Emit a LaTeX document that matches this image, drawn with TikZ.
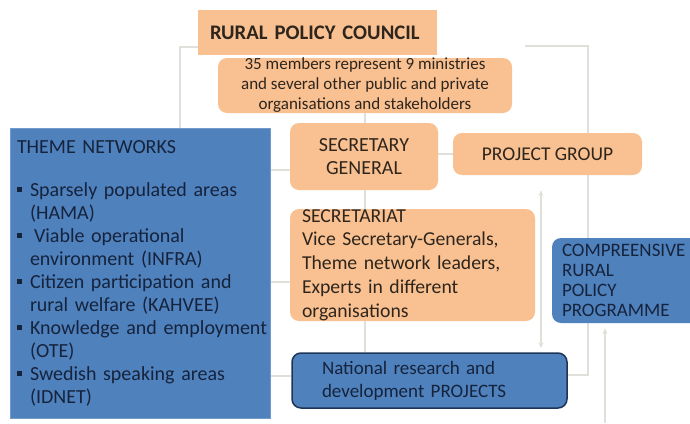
\documentclass[tikz,border=0pt]{standalone}
\usepackage{fontspec}
\setmainfont{Carlito}
\usetikzlibrary{arrows.meta,backgrounds}
\definecolor{orng}{HTML}{F9C191}
\definecolor{blu}{HTML}{4F81BD}
\definecolor{navy}{HTML}{16233C}
\definecolor{brn}{HTML}{2E251D}
\definecolor{connc}{HTML}{E0E0DA}
\definecolor{edge}{HTML}{1D3557}
\newcommand{\bul}{\makebox[13pt][l]{\raisebox{4pt}{\rule{5pt}{5pt}}}}
\newcommand{\ind}{\hspace*{13pt}}
\begin{document}
\begin{tikzpicture}[x=1pt,y=-1pt,
  obox/.style={fill=orng, draw=none, rounded corners=9pt, text=brn, inner ysep=0pt},
  rbox/.style={fill=orng, draw=none, text=brn, inner ysep=0pt},
  bbox/.style={fill=blu, draw=none, rounded corners=9pt, text=navy, inner ysep=0pt},
  conn/.style={draw=connc, line width=1.5pt},
  tip/.style={-{Stealth[length=6pt,width=5pt]}},
  dtip/.style={{Stealth[length=6pt,width=5pt]}-{Stealth[length=6pt,width=5pt]}}]
\useasboundingbox (0,0) rectangle (690,423);
\clip (0,0) rectangle (690,423);

% nodes
\node[rbox, minimum width=239pt, minimum height=45pt, inner xsep=12pt, text width=215pt, align=left,
  font=\fontsize{20.7}{23}\selectfont\bfseries] (rpc) at (317.5,32.5) {RURAL POLICY COUNCIL};
\node[obox, minimum width=294pt, minimum height=55pt, align=center,
  font=\fontsize{17}{20}\selectfont] (members) at (365,85.5)
  {35 members represent 9 ministries\\and several other public and private\\organisations and stakeholders};
\node[obox, minimum width=148pt, minimum height=67pt, align=center,
  font=\fontsize{20}{23}\selectfont] (sg) at (364,156.5) {SECRETARY\\GENERAL};
\node[obox, minimum width=189pt, minimum height=42pt, align=center,
  font=\fontsize{19.5}{23}\selectfont] (pg) at (547.5,154) {PROJECT GROUP};
\node[obox, minimum width=245pt, minimum height=112pt, inner xsep=12pt, text width=221pt, align=left,
  font=\fontsize{19.7}{23.75}\selectfont] (secr) at (412.5,265)
  {SECRETARIAT\\Vice Secretary-Generals,\\Theme network leaders,\\Experts in different\\organisations};
\node[bbox, minimum width=170pt, minimum height=85pt, inner xsep=10pt, text width=150pt, align=left,
  font=\fontsize{19}{20}\selectfont] (comp) at (637,280.5)
  {COMPREENSIVE\\RURAL\\POLICY\\PROGRAMME};
\node[bbox, draw=edge, line width=1.5pt, minimum width=275pt, minimum height=55pt, inner xsep=30pt,
  text width=215pt, align=left, font=\fontsize{19}{23}\selectfont] (national) at (429.5,380.5)
  {National research and\\development PROJECTS};
\node[fill=blu, draw=blu!80!white, line width=0.8pt, minimum width=260pt, minimum height=290pt,
  inner xsep=7pt, text width=246pt, align=left, text=navy, inner ysep=0pt,
  font=\fontsize{20}{23}\selectfont] (theme) at (140,273)
  {THEME NETWORKS\\[20pt]
   \mbox{\bul Sparsely populated areas}\\
   \ind (HAMA)\\
   \mbox{\bul\hspace{4pt}Viable operational}\\
   \ind environment (INFRA)\\
   \mbox{\bul Citizen participation and}\\
   \ind rural welfare (KAHVEE)\\
   \mbox{\bul Knowledge and employment}\\
   \ind (OTE)\\
   \mbox{\bul Swedish speaking areas}\\
   \ind (IDNET)};

% connector anchors
\coordinate (tl) at (180,47);
\coordinate (h1) at (0,170);
\coordinate (h2) at (0,282);
\coordinate (h3) at (0,376);
\coordinate (trs) at (525,46);
\coordinate (tr) at (588,46);
\coordinate (br) at (588,375);
\coordinate (ax) at (541,0);
\coordinate (bot) at (605,423);

\begin{scope}[on background layer]
\draw[conn] (rpc.south west |- tl) -- (tl) -- (tl |- theme.north);
\draw[conn] (members.south) -- (members.south |- national.north);
\draw[conn] (theme.east |- h1) -- (sg.west |- h1);
\draw[conn] (theme.east |- h2) -- (secr.west |- h2);
\draw[conn] (theme.east |- h3) -- (national.west |- h3);
\draw[conn] (sg.east |- pg.west) -- (pg.west);
\draw[conn] (trs) -- (tr) -- (tr |- pg.north);
\draw[conn] (tr |- pg.south) -- (br) -- (national.east |- br);
\draw[conn, dtip, shorten <=15pt, shorten >=4pt] (ax |- pg.south) -- (ax |- national.north);
\draw[conn, tip, shorten >=5pt] (bot) -- (bot |- comp.south);
\end{scope}
\end{tikzpicture}
\end{document}
